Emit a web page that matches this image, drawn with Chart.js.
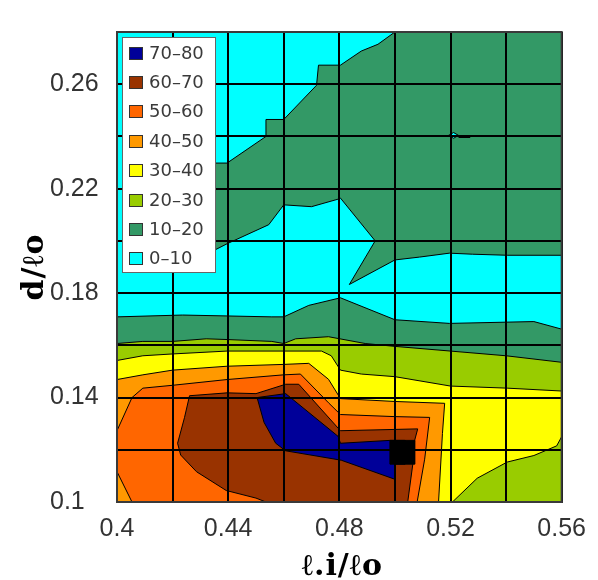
<!DOCTYPE html>
<html>
<head>
<meta charset="utf-8">
<style>
html,body{margin:0;padding:0;background:#ffffff;}
#wrap{width:598px;height:580px;position:relative;}
</style>
<script src="https://cdn.jsdelivr.net/npm/chart.js@4.4.1/dist/chart.umd.min.js"></script>
</head>
<body>
<div id="wrap"><canvas id="c" width="598" height="580"></canvas></div>
<script>
// ---------- axes ----------
const xTicks = [0.40, 0.42, 0.44, 0.46, 0.48, 0.50, 0.52, 0.54, 0.56];
const xTickLabels = ['0.4', '', '0.44', '', '0.48', '', '0.52', '', '0.56'];
const yTicks = [0.10, 0.12, 0.14, 0.16, 0.18, 0.20, 0.22, 0.24, 0.26, 0.28];
const yTickLabels = ['0.1', '', '0.14', '', '0.18', '', '0.22', '', '0.26', ''];
const xTitle = 'ℓ.i/ℓo';
const yTitle = 'd/ℓo';

// ---------- legend ----------
const bandLabels = ['70–80', '60–70', '50–60', '40–50', '30–40', '20–30', '10–20', '0–10'];
const bandColors = ['#000099', '#993300', '#FF6600', '#FF9900', '#FFFF00', '#99CC00', '#339966', '#00FFFF'];

// ---------- contour regions (x = ℓi/ℓo, y = d/ℓo) ----------
const domain = [[0.40, 0.10], [0.56, 0.10], [0.56, 0.28], [0.40, 0.28]];
// level 10 : upper 10-20 region
const level10Upper = [
  [0.430, 0.2298], [0.4396, 0.2298], [0.4536, 0.2400], [0.4536, 0.2465], [0.4600, 0.2465],
  [0.4718, 0.2596], [0.4725, 0.2673], [0.4804, 0.2673], [0.4879, 0.2727], [0.4939, 0.2753],
  [0.5000, 0.2800], [0.5600, 0.2800], [0.5600, 0.1945], [0.5404, 0.1945], [0.5279, 0.1949],
  [0.5196, 0.1953], [0.5089, 0.1938], [0.5000, 0.1927], [0.4836, 0.1833], [0.4929, 0.2000],
  [0.4804, 0.2164], [0.4796, 0.2160], [0.4700, 0.2131], [0.4600, 0.2138], [0.4546, 0.2062],
  [0.4396, 0.1989], [0.4350, 0.1964], [0.4300, 0.1955]
];
// level 10 : lower region (everything below the middle 0-10 band)
const level10Lower = [
  [0.40, 0.1709], [0.4236, 0.1716], [0.4557, 0.1709], [0.4600, 0.1709], [0.4690, 0.1753],
  [0.4804, 0.1782], [0.5000, 0.1698], [0.5196, 0.1684], [0.5500, 0.1691], [0.5600, 0.1662],
  [0.56, 0.10], [0.40, 0.10]
];
const level20 = [
  [0.40, 0.1607], [0.4093, 0.1615], [0.4200, 0.1615], [0.4321, 0.1625], [0.4400, 0.1622],
  [0.4557, 0.1615], [0.4600, 0.1607], [0.4643, 0.1625], [0.4761, 0.1633], [0.4893, 0.1607],
  [0.5000, 0.1596], [0.5200, 0.1578], [0.5400, 0.1560], [0.5600, 0.1535],
  [0.56, 0.10], [0.40, 0.10]
];
const level30 = [
  [0.40, 0.1542], [0.4093, 0.1560], [0.4200, 0.1567], [0.4396, 0.1578], [0.4600, 0.1578],
  [0.4736, 0.1578], [0.4771, 0.1560], [0.4804, 0.1505], [0.4879, 0.1490], [0.5000, 0.1480],
  [0.5200, 0.1444], [0.5404, 0.1436], [0.5600, 0.1425], [0.5600, 0.1250], [0.5582, 0.1215],
  [0.5500, 0.1178], [0.5404, 0.1153], [0.5296, 0.1091], [0.5207, 0.1000], [0.40, 0.10]
];
const level40 = [
  [0.40, 0.1469], [0.4093, 0.1487], [0.4200, 0.1505], [0.4396, 0.1520], [0.4600, 0.1527],
  [0.4690, 0.1531], [0.4761, 0.1470], [0.4804, 0.1396], [0.5000, 0.1385], [0.5179, 0.1378],
  [0.5171, 0.1262], [0.5157, 0.1000], [0.40, 0.10]
];
const level50 = [
  [0.40, 0.1116], [0.40, 0.1273], [0.4054, 0.1400], [0.4093, 0.1436], [0.4200, 0.1447],
  [0.4396, 0.1469], [0.4600, 0.1487], [0.4660, 0.1490], [0.4761, 0.1380], [0.4804, 0.1335],
  [0.5000, 0.1327], [0.5125, 0.1324], [0.5107, 0.1164], [0.5080, 0.1000], [0.4054, 0.1000]
];
const level60 = [
  [0.4261, 0.1407], [0.4243, 0.1324], [0.4218, 0.1225], [0.4229, 0.1180], [0.4286, 0.1116],
  [0.4393, 0.1044], [0.4500, 0.1015], [0.4536, 0.1000], [0.5046, 0.1000], [0.5064, 0.1142],
  [0.5071, 0.1236], [0.5082, 0.1280], [0.4804, 0.1273], [0.4654, 0.1451], [0.4607, 0.1451],
  [0.4500, 0.1415], [0.4396, 0.1418]
];
const level70 = [
  [0.4504, 0.1400], [0.4607, 0.1415], [0.4796, 0.1251], [0.4804, 0.1225], [0.4982, 0.1236],
  [0.5036, 0.1236], [0.5036, 0.1145], [0.5000, 0.1145], [0.5000, 0.1087], [0.4807, 0.1160],
  [0.4607, 0.1196], [0.4571, 0.1225], [0.4529, 0.1305]
];
const level80 = [[0.4982, 0.1236], [0.5071, 0.1236], [0.5071, 0.1145], [0.4982, 0.1145]];
const pocket0to10 = [[0.5193, 0.2404], [0.5211, 0.2415], [0.5229, 0.2404], [0.5211, 0.2393]];
const stubLine = [[0.5229, 0.2400], [0.5271, 0.2400]];

// ---------- build datasets ----------
const CYAN = bandColors[7], GREEN = bandColors[6], YG = bandColors[5], YEL = bandColors[4],
      OR40 = bandColors[3], OR50 = bandColors[2], BROWN = bandColors[1], NAVY = bandColors[0];
const layers = [
  { poly: domain, fillColor: CYAN, bw: 0 },
  { poly: level10Upper, fillColor: GREEN, bw: 1 },
  { poly: level10Lower, fillColor: GREEN, bw: 1 },
  { poly: level20, fillColor: YG, bw: 1 },
  { poly: level30, fillColor: YEL, bw: 1 },
  { poly: level40, fillColor: OR40, bw: 1 },
  { poly: level50, fillColor: OR50, bw: 1 },
  { poly: level60, fillColor: BROWN, bw: 1 },
  { poly: level70, fillColor: NAVY, bw: 1 },
  { poly: level80, fillColor: '#000000', bw: 1 },
  { poly: pocket0to10, fillColor: CYAN, bw: 1 }
];
const toPts = arr => arr.map(p => ({ x: p[0], y: p[1] }));
const datasets = layers.map(l => ({
  data: toPts(l.poly.concat([l.poly[0]])),
  fillColor: l.fillColor,
  showLine: l.bw > 0,
  borderColor: '#000000',
  borderWidth: l.bw,
  pointRadius: 0,
  fill: false,
  tension: 0
}));
datasets.push({
  data: toPts(stubLine), showLine: true, borderColor: '#000000', borderWidth: 3,
  pointRadius: 0, fill: false
});

// ---------- plugins ----------
const polygonFill = {
  id: 'polygonFill',
  beforeDatasetsDraw(chart) {
    const ctx = chart.ctx, a = chart.chartArea;
    ctx.save();
    ctx.beginPath();
    ctx.rect(a.left, a.top, a.right - a.left, a.bottom - a.top);
    ctx.clip();
    chart.data.datasets.forEach((ds, i) => {
      if (!ds.fillColor) return;
      const pts = chart.getDatasetMeta(i).data;
      ctx.beginPath();
      pts.forEach((p, j) => { if (j === 0) ctx.moveTo(p.x, p.y); else ctx.lineTo(p.x, p.y); });
      ctx.closePath();
      ctx.fillStyle = ds.fillColor;
      ctx.fill();
    });
    ctx.restore();
  }
};

const decorations = {
  id: 'decorations',
  afterDraw(chart) {
    const ctx = chart.ctx, a = chart.chartArea;
    ctx.save();
    // frame
    ctx.strokeStyle = '#3a3a3a';
    ctx.lineWidth = 2;
    ctx.strokeRect(a.left, a.top, a.right - a.left, a.bottom - a.top);
    // legend
    const lx = a.left + 5, ly = a.top + 5, lw = 93, lh = 235;
    ctx.fillStyle = '#ffffff';
    ctx.fillRect(lx, ly, lw, lh);
    ctx.strokeStyle = '#666666';
    ctx.lineWidth = 1;
    ctx.strokeRect(lx + 0.5, ly + 0.5, lw, lh);
    ctx.font = '18px "DejaVu Sans"';
    ctx.textBaseline = 'middle';
    ctx.textAlign = 'left';
    bandLabels.forEach((lab, i) => {
      const cy = a.top + 21 + i * 29.4;
      ctx.fillStyle = bandColors[i];
      ctx.fillRect(a.left + 12, Math.round(cy - 6.5), 14, 13);
      ctx.strokeStyle = '#333333';
      ctx.strokeRect(a.left + 12.5, Math.round(cy - 6.5) + 0.5, 13, 12);
      ctx.fillStyle = '#3a3a3a';
      ctx.fillText(lab, a.left + 32, cy + 1);
    });
    // axis titles
    ctx.fillStyle = '#000000';
    ctx.font = 'bold 30px "DejaVu Serif"';
    ctx.letterSpacing = '1px';
    ctx.textAlign = 'center';
    ctx.textBaseline = 'alphabetic';
    ctx.fillText(xTitle, (a.left + a.right) / 2 + 3, 575);
    ctx.translate(43, (a.top + a.bottom) / 2);
    ctx.rotate(-Math.PI / 2);
    ctx.fillText(yTitle, 0, 0);
    ctx.restore();
  }
};

const tickFont = { family: '"Liberation Sans", Arial, sans-serif', size: 25 };

new Chart(document.getElementById('c'), {
  type: 'scatter',
  data: { datasets },
  options: {
    responsive: false,
    animation: false,
    events: [],
    layout: { padding: { left: 50, top: 7, right: 33, bottom: 0 } },
    plugins: { legend: { display: false }, tooltip: { enabled: false } },
    scales: {
      x: {
        type: 'linear', min: 0.40, max: 0.56, z: 1,
        afterBuildTicks: s => { s.ticks = xTicks.map(v => ({ value: v })); },
        afterFit: s => { s.height = 78; },
        ticks: { callback: (v, i) => xTickLabels[i], font: tickFont, color: '#333333',
                 padding: 12, autoSkip: false, maxRotation: 0 },
        grid: { color: '#000000', lineWidth: 2, drawTicks: false, z: 1 },
        border: { display: true, color: '#222222', width: 2, z: 2 }
      },
      y: {
        type: 'linear', min: 0.10, max: 0.28, z: 1,
        afterBuildTicks: s => { s.ticks = yTicks.map(v => ({ value: v })); },
        afterFit: s => { s.width = 67; },
        ticks: { callback: (v, i) => yTickLabels[i], font: tickFont, color: '#333333',
                 padding: 17, autoSkip: false, crossAlign: 'far' },
        grid: { color: '#000000', lineWidth: 2, drawTicks: false, z: 1 },
        border: { display: true, color: '#222222', width: 2, z: 2 }
      }
    }
  },
  plugins: [polygonFill, decorations]
});
</script>
</body>
</html>
